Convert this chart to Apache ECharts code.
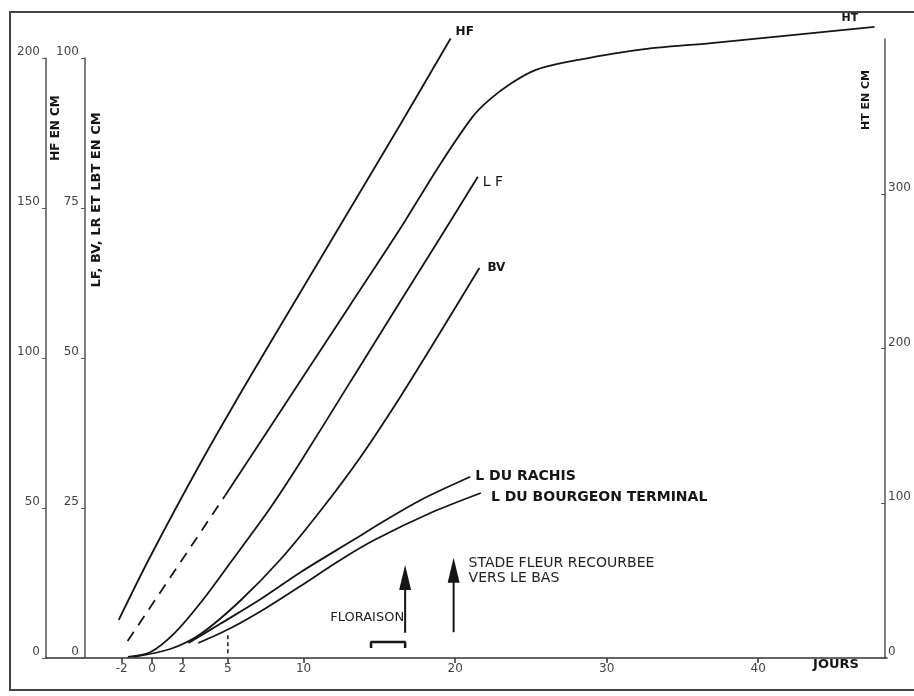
<!DOCTYPE html>
<html>
<head>
<meta charset="utf-8">
<script src="https://cdn.jsdelivr.net/npm/echarts@6/dist/echarts.min.js"></script>
<style>
html,body{margin:0;padding:0;background:#fff;}
#chart{width:914px;height:696px;}
</style>
</head>
<body>
<div id="chart"></div>
<script>
// ---- data (days, values) ----
const xTickDays = [-2, 0, 2, 5, 10, 20, 30, 40];
const hfTicks = [0, 50, 100, 150, 200];
const lfTicks = [0, 25, 50, 75, 100];
const htTicks = [0, 100, 200, 300];

const hfDays = [-2.2, -0.1, 3.2, 6.5, 9.8, 13.1, 16.4, 19.7];
const hfVals = [12.7, 34, 65, 94, 122, 150, 178, 206.5];

const htDashDays = [-1.6, 4.85];
const htDashVals = [11, 105];
const htDays = [4.85, 9.8, 13.1, 16.4, 19.0, 21.2, 22.3, 23.8, 25.4, 27.4, 32.2, 37.0, 47.8];
const htVals = [105, 178.6, 227.8, 277, 318, 349.5, 360.5, 371.5, 380, 385, 393, 397.4, 407.8];

const lfDays = [-1.6, -0.1, 1.5, 3.2, 5.2, 7.8, 9.8, 13.1, 16.4, 19.0, 21.5];
const lfVals = [0.2, 1.0, 4.2, 9.2, 16, 25, 32.7, 46.1, 59.5, 70, 80.2];

const bvDays = [-1.2, 1.2, 3.2, 5.8, 8.5, 11.1, 13.7, 16.4, 19.0, 21.6];
const bvVals = [0.2, 1.5, 4.0, 9.5, 16.5, 24.5, 33.3, 43.6, 54.2, 65];

const rachisDays = [2.4, 4.5, 7.1, 9.8, 13.3, 15.1, 17.7, 21.0];
const rachisVals = [2.5, 5.7, 9.7, 14.3, 19.7, 22.5, 26.3, 30.2];

const bourgDays = [3.05, 5.2, 7.5, 9.8, 12.4, 14.7, 18.4, 21.7];
const bourgVals = [2.5, 5, 8.3, 12, 16.3, 19.7, 24.2, 27.5];

const bracketDays = [14.45, 14.45, 16.7, 16.7];
const bracketVals = [1.67, 2.67, 2.67, 1.67];

const markDays = [5, 5];
const markVals = [0.8, 3.8];

const arrowDays = [16.7, 19.9];
const arrowBottom = [4.2, 4.3];
const arrowTop = [15.5, 16.7];
const arrowTexts = ['FLORAISON', 'STADE FLEUR RECOURBEE\nVERS LE BAS'];

const zip = (a, b) => a.map((v, i) => [v, b[i]]);

const FONT = 'DejaVu Sans';
const INK = '#151515';

const chart = echarts.init(document.getElementById('chart'), null, {renderer: 'canvas'});

const lineBase = {
  type: 'line', showSymbol: false, symbol: 'none', smooth: 0.3, clip: false,
  lineStyle: {color: INK, width: 1.8}, silent: true
};
function endLbl(text, offset, size, weight) {
  return {show: true, formatter: text, offset: offset, color: INK,
    fontFamily: FONT, fontSize: size, fontWeight: weight, distance: 5};
}

const option = {
  animation: false,
  backgroundColor: '#fff',
  grid: [
    {left: 46, right: 27, top: 39, bottom: 38},
    {left: 46, right: 27, top: 58, bottom: 38}
  ],
  xAxis: [
    {gridIndex: 0, type: 'value', min: -7, max: 48.5, show: false},
    {gridIndex: 1, type: 'value', min: -7, max: 48.5,
      axisLine: {show: true, lineStyle: {color: '#333', width: 1.5}},
      axisTick: {show: true, customValues: xTickDays, length: 5, inside: false, lineStyle: {color: '#333', width: 1.5}},
      axisLabel: {customValues: xTickDays, color: '#444', fontFamily: FONT, fontSize: 12, margin: 5},
      splitLine: {show: false}
    }
  ],
  yAxis: [
    {gridIndex: 1, type: 'value', min: 0, max: 200, position: 'left',
      axisLine: {show: true, onZero: false, lineStyle: {color: '#555', width: 1.5}},
      axisTick: {show: true, customValues: hfTicks, length: 4, lineStyle: {color: '#555'}},
      axisLabel: {customValues: hfTicks, color: '#444', fontFamily: FONT, fontSize: 12, margin: 6, verticalAlign: 'bottom'},
      splitLine: {show: false}
    },
    {gridIndex: 1, type: 'value', min: 0, max: 100, position: 'left', offset: -39,
      axisLine: {show: true, onZero: false, lineStyle: {color: '#555', width: 1.5}},
      axisTick: {show: true, customValues: lfTicks, length: 4, lineStyle: {color: '#555'}},
      axisLabel: {customValues: lfTicks, color: '#444', fontFamily: FONT, fontSize: 12, margin: 6, verticalAlign: 'bottom'},
      splitLine: {show: false}
    },
    {gridIndex: 0, type: 'value', min: 0, max: 400, position: 'right',
      axisLine: {show: true, onZero: false, lineStyle: {color: '#555', width: 1.5}},
      axisTick: {show: true, customValues: htTicks, length: 4, inside: true, lineStyle: {color: '#555'}},
      axisLabel: {customValues: htTicks, color: '#444', fontFamily: FONT, fontSize: 12, margin: 3, verticalAlign: 'bottom'},
      splitLine: {show: false}
    }
  ],
  series: [
    Object.assign({}, lineBase, {name: 'HF', xAxisIndex: 1, yAxisIndex: 0, data: zip(hfDays, hfVals),
      endLabel: endLbl('HF', [0, -7], 12, 'bold')}),
    Object.assign({}, lineBase, {name: 'HT pointillé', xAxisIndex: 0, yAxisIndex: 2, smooth: false,
      data: zip(htDashDays, htDashVals), lineStyle: {color: INK, width: 1.8, type: [11, 8]}}),
    Object.assign({}, lineBase, {name: 'HT', xAxisIndex: 0, yAxisIndex: 2, data: zip(htDays, htVals),
      endLabel: endLbl('HT', [-38, -9], 11, 'bold')}),
    Object.assign({}, lineBase, {name: 'LF', xAxisIndex: 1, yAxisIndex: 1, data: zip(lfDays, lfVals),
      endLabel: endLbl('L F', [0, 6], 14, 'normal')}),
    Object.assign({}, lineBase, {name: 'BV', xAxisIndex: 1, yAxisIndex: 1, data: zip(bvDays, bvVals),
      endLabel: endLbl('BV', [3, 0], 12, 'bold')}),
    Object.assign({}, lineBase, {name: 'L DU RACHIS', xAxisIndex: 1, yAxisIndex: 1, data: zip(rachisDays, rachisVals),
      endLabel: endLbl('L DU RACHIS', [0, 0], 14, 'bold')}),
    Object.assign({}, lineBase, {name: 'L DU BOURGEON TERMINAL', xAxisIndex: 1, yAxisIndex: 1, data: zip(bourgDays, bourgVals),
      endLabel: endLbl('L DU BOURGEON TERMINAL', [5, 4], 14, 'bold')}),
    Object.assign({}, lineBase, {name: 'floraison', xAxisIndex: 1, yAxisIndex: 1, smooth: false,
      data: zip(bracketDays, bracketVals), lineStyle: {color: INK, width: 2.5}}),
    Object.assign({}, lineBase, {name: 'j5', xAxisIndex: 1, yAxisIndex: 1, smooth: false,
      data: zip(markDays, markVals), lineStyle: {color: INK, width: 1.5, type: [4, 3]}}),
    {
      type: 'custom', name: 'fleches', xAxisIndex: 1, yAxisIndex: 1, clip: false, silent: true,
      data: arrowDays.map((d, i) => [d, arrowBottom[i], arrowTop[i]]),
      encode: {x: 0, y: [1, 2]},
      renderItem: function (params, api) {
        const i = params.dataIndex;
        const p0 = api.coord([api.value(0), api.value(1)]);
        const p1 = api.coord([api.value(0), api.value(2)]);
        const children = [
          {type: 'line', shape: {x1: p0[0], y1: p0[1], x2: p1[0], y2: p1[1] + 20},
            style: {stroke: INK, lineWidth: 2}},
          {type: 'polygon', shape: {points: [[p1[0], p1[1]], [p1[0] - 6, p1[1] + 25], [p1[0] + 6, p1[1] + 25]]},
            style: {fill: INK}}
        ];
        if (i === 0) {
          children.push({type: 'text', style: {text: arrowTexts[i], x: p0[0] - 1, y: p0[1] - 15,
            align: 'right', verticalAlign: 'middle', fill: '#222', font: '13px "DejaVu Sans"'}});
        } else {
          children.push({type: 'text', style: {text: arrowTexts[i], x: p1[0] + 15, y: p1[1] - 2,
            align: 'left', verticalAlign: 'top', fill: '#222', font: '14px "DejaVu Sans"', lineHeight: 15}});
        }
        return {type: 'group', children: children};
      }
    }
  ],
  graphic: [
    {type: 'rect', shape: {x: 10, y: 12, width: 930, height: 678}, style: {fill: 'none', stroke: '#444', lineWidth: 2}, silent: true},
    {type: 'text', x: 56, y: 128, rotation: Math.PI / 2,
      style: {text: 'HF EN CM', align: 'center', verticalAlign: 'middle', fill: INK, font: 'bold 12px "DejaVu Sans"'}},
    {type: 'text', x: 97, y: 200, rotation: Math.PI / 2,
      style: {text: 'LF, BV, LR ET LBT EN CM', align: 'center', verticalAlign: 'middle', fill: INK, font: 'bold 13px "DejaVu Sans"'}},
    {type: 'text', x: 866, y: 100, rotation: Math.PI / 2,
      style: {text: 'HT EN CM', align: 'center', verticalAlign: 'middle', fill: INK, font: 'bold 11px "DejaVu Sans"'}},
    {type: 'text', x: 836, y: 665,
      style: {text: 'JOURS', align: 'center', verticalAlign: 'middle', fill: INK, font: 'bold 13px "DejaVu Sans"'}}
  ]
};
chart.setOption(option);
</script>
</body>
</html>
